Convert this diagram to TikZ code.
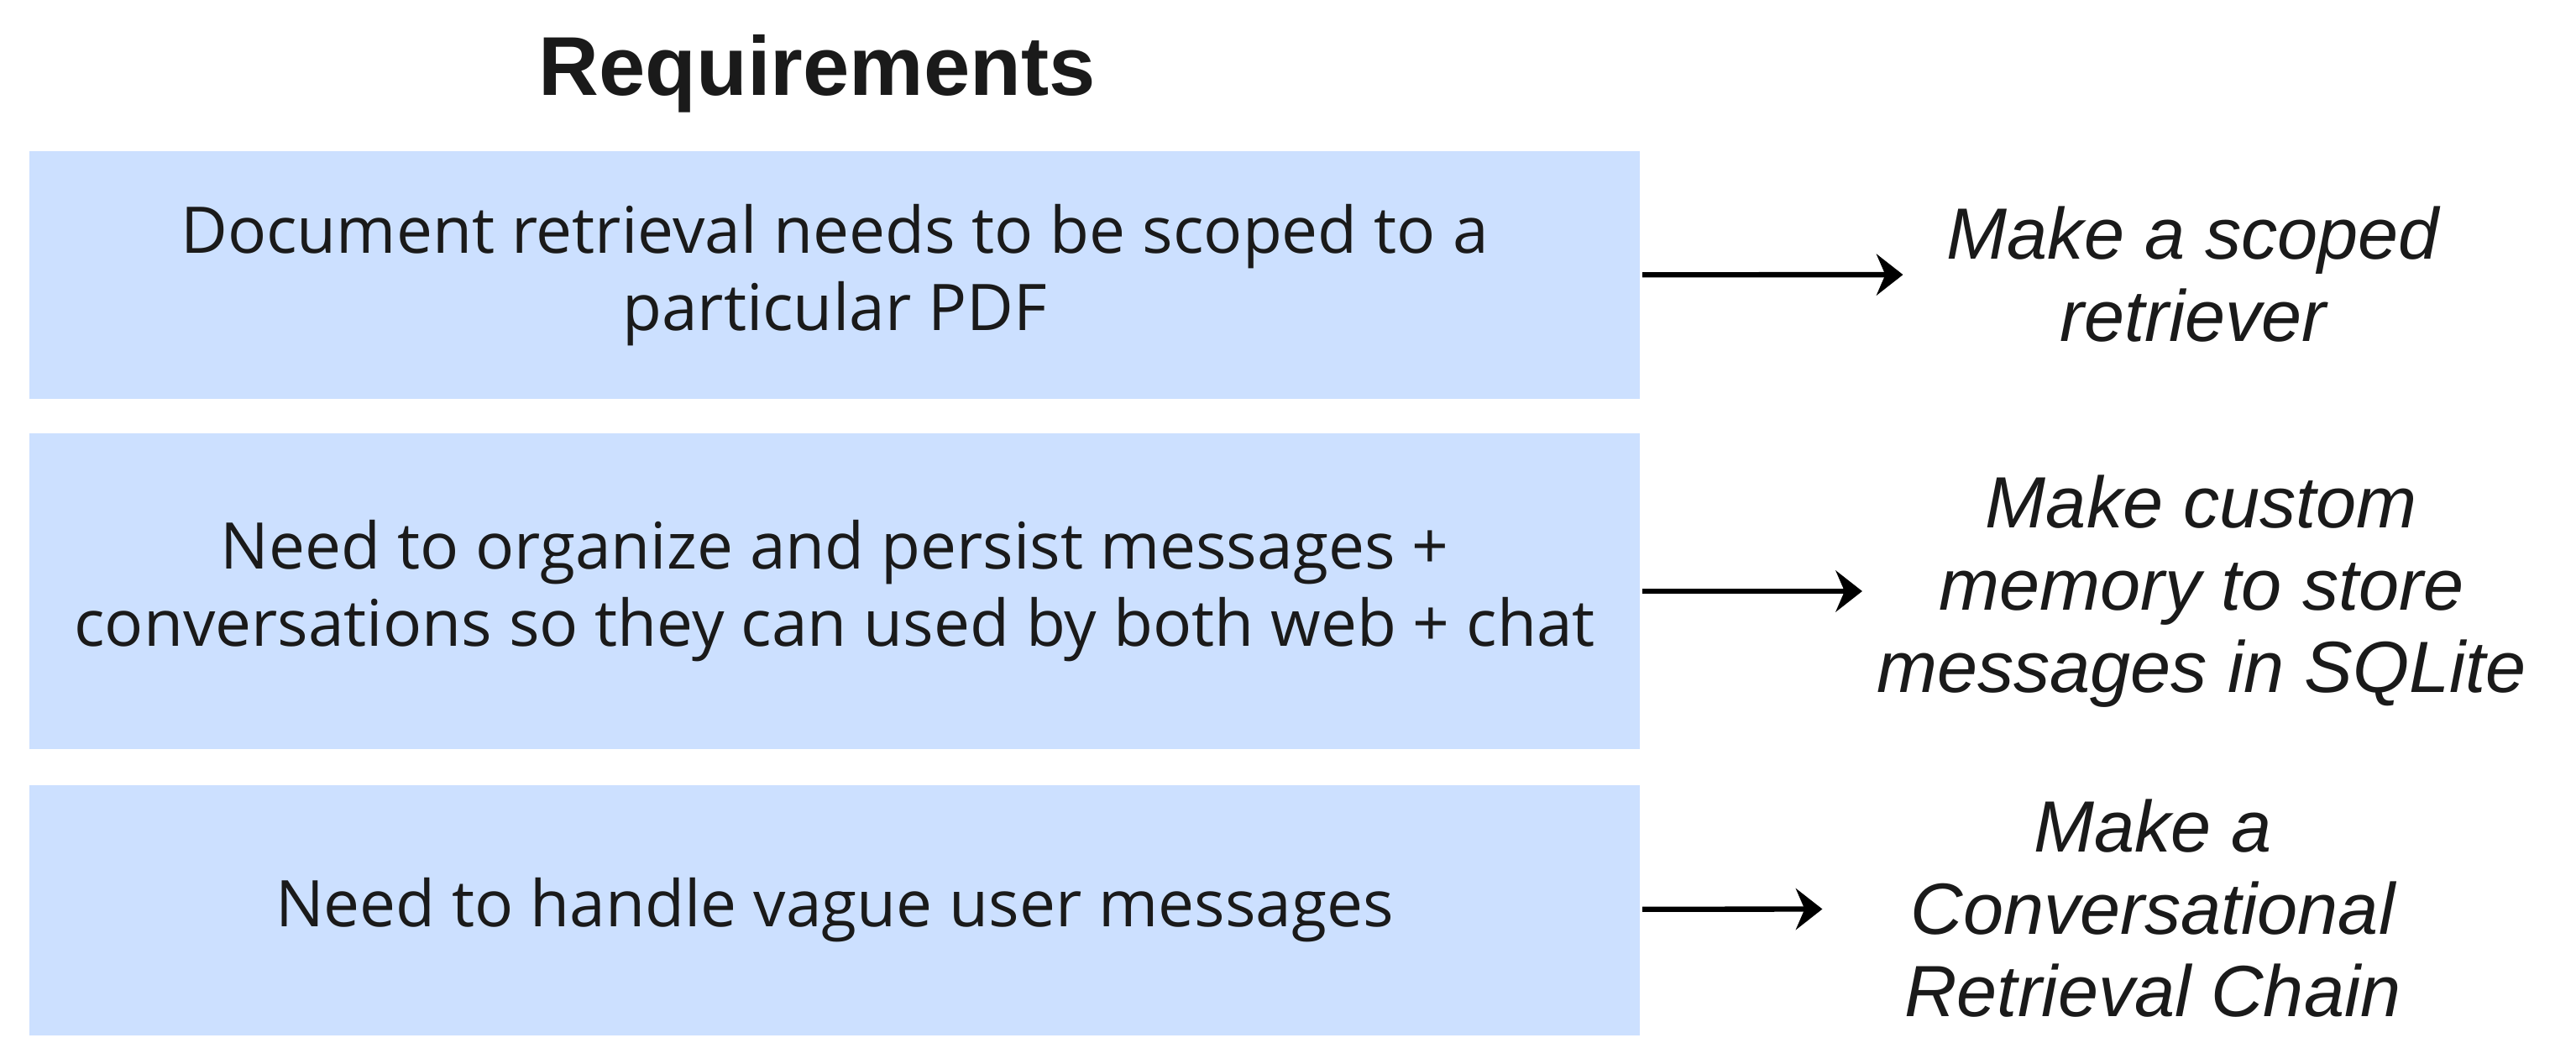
\documentclass[tikz,border=0pt]{standalone}
\usepackage{fontspec}
\setmainfont{Liberation Sans}
\newfontfamily\boxfont{Open Sans}
\usetikzlibrary{arrows.meta}
\definecolor{reqblue}{HTML}{CCE0FF}
\definecolor{ink}{HTML}{1A1A1A}

\begin{document}
\begin{tikzpicture}[-,>={Stealth[length=9pt,width=14pt,inset=3pt]},shorten >=10pt,line width=1.8pt,
    req node/.style={fill=reqblue,minimum width=19.18cm,align=center,text=ink,font=\boxfont\fontsize{21.8}{26.2}\selectfont},
    act node/.style={align=center,text=ink,inner sep=0pt,font=\itshape\fontsize{24.6}{27.9}\selectfont}]

            \useasboundingbox (0,0) rectangle (30.68,12.66);

            \node[text=ink,font=\bfseries\fontsize{28.3}{32}\selectfont] (title) at (9.73,11.78) {Requirements};

            \node[req node, minimum height=2.95cm] (r1) at (9.94,9.385) {Document retrieval needs to be scoped to a\\particular PDF};
            \node[req node, minimum height=3.76cm] (r2) at (9.94,5.62) {Need to organize and persist messages +\\conversations so they can used by both web + chat};
            \node[req node, minimum height=2.98cm] (r3) at (9.94,1.82) {Need to handle vague user messages};

            \node[act node] (a1) at (26.12,9.39) {Make a scoped\\retriever};
            \node[act node] (a2) at (26.22,5.62) {Make custom\\memory to store\\messages in SQLite};
            \node[act node] (a3) at (25.64,1.84) {Make a\\Conversational\\Retrieval Chain};

            \draw[->, shorten >=14pt] (r1) to (a1);
            \draw[->, shorten >=4pt] (r2) to (a2);
            \draw[->, shorten >=27pt] (r3) to (a3);

        \end{tikzpicture}
\end{document}
